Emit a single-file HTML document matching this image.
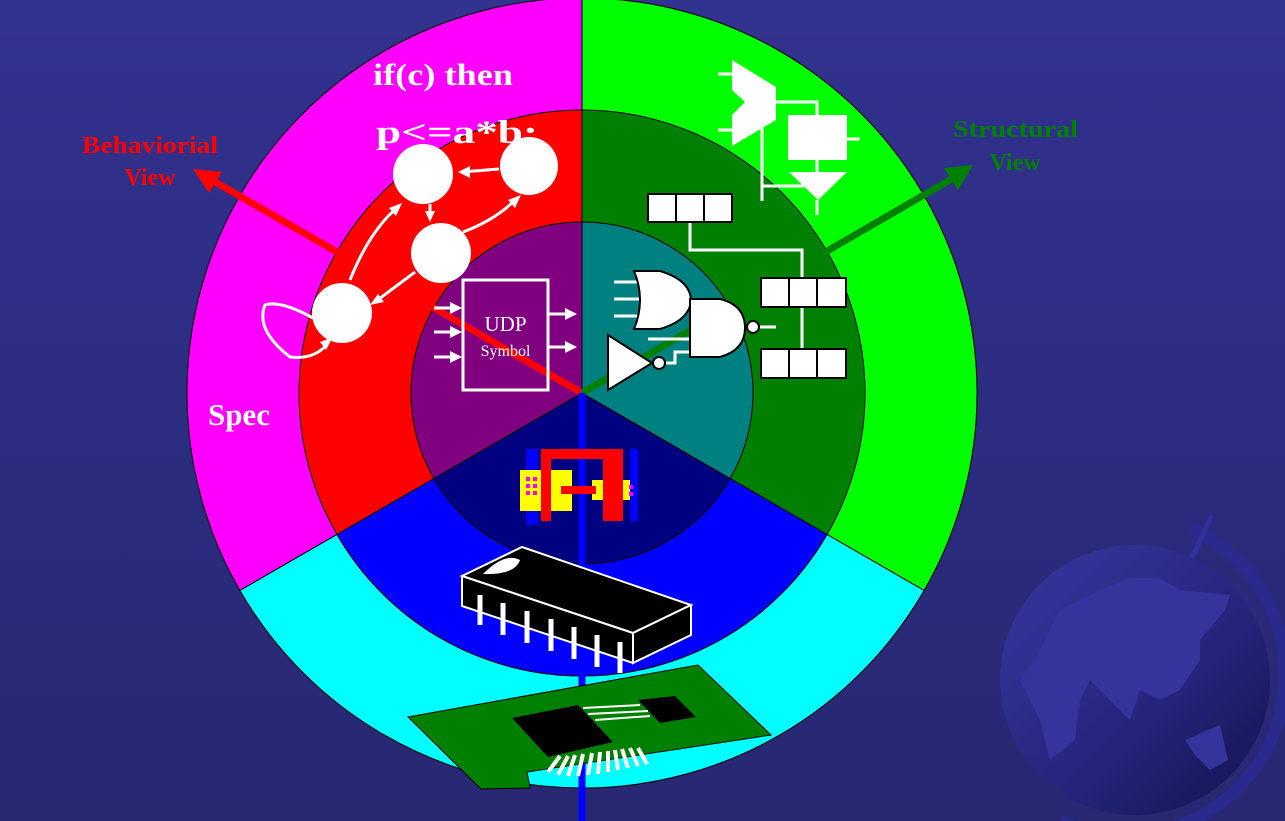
<!DOCTYPE html>
<html><head><meta charset="utf-8"><style>
html,body{margin:0;padding:0;width:1285px;height:821px;overflow:hidden;background:#2d2d86}
svg{display:block}
</style></head><body>
<svg width="1285" height="821" viewBox="0 0 1285 821" xmlns="http://www.w3.org/2000/svg">
<defs>
<linearGradient id="bg" x1="0" y1="0" x2="0" y2="1"><stop offset="0" stop-color="#323290"/><stop offset="1" stop-color="#272772"/></linearGradient>
<linearGradient id="gl" x1="0" y1="0" x2="1" y2="1"><stop offset="0" stop-color="#3838a0"/><stop offset="0.6" stop-color="#24247a"/><stop offset="1" stop-color="#12124e"/></linearGradient>
</defs>
<rect width="1285" height="821" fill="url(#bg)"/>
<!-- globe -->
<path d="M1190 528 A160 160 0 0 1 1060 821" fill="none" stroke="#2a2a8e" stroke-width="12"/>
<line x1="1212" y1="515" x2="1192" y2="558" stroke="#3030a0" stroke-width="5"/>
<circle cx="1135" cy="680" r="135" fill="url(#gl)"/>
<path d="M1020 680 L1040 650 L1060 610 L1100 590 L1130 578 L1160 578 L1180 590 L1230 595 L1225 610 L1200 640 L1200 660 L1180 690 L1160 700 L1140 690 L1130 720 L1110 700 L1090 680 L1080 700 L1075 740 L1050 760 L1040 720 L1030 700 Z" fill="#34349c"/>
<path d="M1185 740 L1220 725 L1228 760 L1210 770 L1195 755 Z" fill="#34349c"/>
<!-- outer sectors -->
<g stroke="#000" stroke-width="1">
<path d="M582 393 L239.9 590.5 A395 395 0 0 1 582 -2 Z" fill="#ff00ff"/>
<path d="M582 393 L582 -2 A395 395 0 0 1 924.1 590.5 Z" fill="#00ff00"/>
<path d="M582 393 L924.1 590.5 A395 395 0 0 1 239.9 590.5 Z" fill="#00ffff"/>
<path d="M582 393 L336.9 534.5 A283 283 0 0 1 582 110 Z" fill="#ff0000"/>
<path d="M582 393 L582 110 A283 283 0 0 1 827.1 534.5 Z" fill="#008000"/>
<path d="M582 393 L827.1 534.5 A283 283 0 0 1 336.9 534.5 Z" fill="#0000ff"/>
<path d="M582 393 L433.9 478.5 A171 171 0 0 1 582 222 Z" fill="#800080"/>
<path d="M582 393 L582 222 A171 171 0 0 1 730.1 478.5 Z" fill="#008080"/>
<path d="M582 393 L730.1 478.5 A171 171 0 0 1 433.9 478.5 Z" fill="#000080"/>
</g>
<!-- axes -->
<line x1="582" y1="393" x2="210" y2="179" stroke="#ff0000" stroke-width="7"/>
<polygon points="193,169 222,172 209,193" fill="#ff0000"/>
<line x1="582" y1="393" x2="955" y2="177" stroke="#008000" stroke-width="7"/>
<polygon points="973,165 944,168 958,190" fill="#008000"/>
<line x1="582" y1="393" x2="582" y2="821" stroke="#0000ff" stroke-width="7"/>
<!-- texts -->
<g font-family="Liberation Serif, serif" font-weight="bold">
<text x="373" y="85" font-size="31" fill="#fff" textLength="140" lengthAdjust="spacingAndGlyphs">if(c) then</text>
<text x="376" y="143" font-size="33" fill="#fff" textLength="162" lengthAdjust="spacingAndGlyphs">p&lt;=a*b;</text>
<text x="208" y="425" font-size="31" fill="#fff">Spec</text>
<text x="82" y="153" font-size="24" fill="#ff0000" textLength="136" lengthAdjust="spacingAndGlyphs">Behaviorial</text>
<text x="150" y="185" font-size="24" fill="#ff0000" text-anchor="middle">View</text>
<text x="953" y="137" font-size="24" fill="#008000" textLength="125" lengthAdjust="spacingAndGlyphs">Structural</text>
<text x="1015" y="170" font-size="24" fill="#008000" text-anchor="middle">View</text>
</g>
<!-- FSM -->
<g fill="#fff">
<circle cx="423" cy="174" r="30"/><circle cx="529" cy="166" r="29"/>
<circle cx="441" cy="253" r="30"/><circle cx="342" cy="313" r="30"/>
</g>
<g stroke="#fff" stroke-width="3" fill="none">
<line x1="499" y1="169" x2="462" y2="172"/>
<line x1="430" y1="204" x2="430" y2="218"/>
<path d="M463 232 Q495 220 515 200"/>
<line x1="415" y1="272" x2="375" y2="302"/>
<path d="M350 280 Q370 230 398 207"/>
<path d="M313 318 Q280 300 265 305 Q255 330 290 357 Q315 360 328 343"/>
</g>
<g fill="#fff">
<polygon points="458,172 470,166 470,178"/>
<polygon points="430,222 425,211 435,211"/>
<polygon points="521,195 508,200 515,208"/>
<polygon points="370,305 378,294 384,302"/>
<polygon points="402,203 396,216 389,208"/>
<polygon points="333,337 320,342 326,350"/>
</g>
<!-- UDP -->
<rect x="463" y="280" width="85" height="110" fill="none" stroke="#fff" stroke-width="3"/>
<text x="505.5" y="331" font-family="Liberation Serif, serif" font-size="21" fill="#fff" text-anchor="middle">UDP</text>
<text x="505.5" y="356" font-family="Liberation Serif, serif" font-size="16" fill="#fff" text-anchor="middle">Symbol</text>
<g stroke="#fff" stroke-width="3">
<line x1="434" y1="308" x2="452" y2="308"/><line x1="434" y1="332" x2="452" y2="332"/><line x1="434" y1="357" x2="452" y2="357"/>
<line x1="549" y1="314" x2="566" y2="314"/><line x1="549" y1="347" x2="566" y2="347"/>
</g>
<g fill="#fff">
<polygon points="462,308 450,302 450,314"/><polygon points="462,332 450,326 450,338"/><polygon points="462,357 450,351 450,363"/>
<polygon points="577,314 565,308 565,320"/><polygon points="577,347 565,341 565,353"/>
</g>
<!-- structural top -->
<g stroke="#fff" stroke-width="3" fill="none">
<line x1="718" y1="74" x2="732" y2="74"/><line x1="718" y1="130" x2="732" y2="130"/>
<polyline points="776,102 817,102 817,115"/>
<line x1="817" y1="160" x2="817" y2="172"/>
<line x1="762" y1="128" x2="762" y2="201"/>
<line x1="762" y1="186" x2="804" y2="186"/>
<line x1="817" y1="200" x2="817" y2="215"/>
<line x1="847" y1="139" x2="860" y2="139"/>
<polyline points="690,222 690,250 802,250 802,349"/>
<polyline points="655,363 675,363 675,352 690,352"/>
<line x1="648" y1="339" x2="690" y2="339"/>
<line x1="760" y1="327" x2="776" y2="327"/>
<line x1="614" y1="282" x2="640" y2="282"/><line x1="614" y1="299" x2="640" y2="299"/><line x1="614" y1="316" x2="640" y2="316"/>
</g>
<polygon points="732,60 776,87 776,120 732,146 732,115 745,102 732,90" fill="#fff"/>
<rect x="788" y="115" width="59" height="45" fill="#fff"/>
<polygon points="789,172 847,172 818,200" fill="#fff"/>
<g fill="#fff" stroke="#000" stroke-width="2">
<rect x="648" y="194" width="28" height="28"/><rect x="676" y="194" width="28" height="28"/><rect x="704" y="194" width="28" height="28"/>
<rect x="761" y="278" width="28" height="29"/><rect x="789" y="278" width="28" height="29"/><rect x="817" y="278" width="29" height="29"/>
<rect x="761" y="349" width="28" height="29"/><rect x="789" y="349" width="28" height="29"/><rect x="817" y="349" width="29" height="29"/>
<path d="M634 271 L660 271 Q690 280 691 300 Q690 320 660 329 L634 329 Q646 300 634 271 Z"/>
<path d="M690 299 L720 299 Q745 305 745 328 Q745 350 720 357 L690 357 Z"/>
<circle cx="753" cy="327" r="6"/>
<polygon points="608,335 652,363 608,390"/>
<circle cx="659" cy="363" r="6"/>
</g>
<!-- transistor layout -->
<rect x="526" y="449" width="12" height="76" fill="#0000ff"/>
<rect x="630" y="449" width="8" height="72" fill="#0000ff"/>
<rect x="520" y="470" width="52" height="41" fill="#ffff00"/>
<rect x="592" y="480" width="38" height="20" fill="#ffff00"/>
<path d="M541 449 L623 449 L623 521 L603 521 L603 459 L551 459 L551 521 L541 521 Z" fill="#ff0000"/>
<rect x="561" y="486" width="35" height="8" fill="#ff0000"/>
<g fill="#ff00ff"><rect x="526" y="477" width="4" height="4"/><rect x="533" y="477" width="4" height="4"/><rect x="526" y="484" width="4" height="4"/><rect x="533" y="484" width="4" height="4"/><rect x="526" y="491" width="4" height="4"/><rect x="533" y="491" width="4" height="4"/><rect x="629" y="485" width="4" height="4"/><rect x="629" y="492" width="4" height="4"/></g>
<!-- IC -->
<g stroke="#fff" stroke-width="2" fill="#000">
<polygon points="462,576 522,547 691,605 633,633"/>
<polygon points="462,576 633,633 633,663 462,606"/>
<polygon points="633,633 691,605 691,635 633,663"/>
</g>
<path d="M483 574 Q505 552 520 560 Q515 575 483 574 Z" fill="#fff"/>
<g stroke="#fff" stroke-width="5">
<line x1="480" y1="595" x2="480" y2="625"/><line x1="503" y1="603" x2="503" y2="635"/><line x1="527" y1="611" x2="527" y2="643"/><line x1="551" y1="619" x2="551" y2="651"/><line x1="574" y1="627" x2="574" y2="659"/><line x1="597" y1="635" x2="597" y2="667"/><line x1="620" y1="642" x2="620" y2="673"/>
</g>
<!-- PCB -->
<polygon points="408,717 698,665 771,735 527,772 530,788 481,789" fill="#008000" stroke="#000" stroke-width="1"/>
<polygon points="512,718 578,705 613,742 548,757" fill="#000"/>
<polygon points="638,700 675,696 696,717 660,723" fill="#000"/>
<g stroke="#fff" stroke-width="2"><line x1="583" y1="708" x2="640" y2="705"/><line x1="588" y1="714" x2="648" y2="711"/><line x1="595" y1="720" x2="650" y2="716"/></g>
<g stroke="#fff" stroke-width="4">
<line x1="548" y1="772" x2="560" y2="756"/><line x1="558" y1="775" x2="568" y2="756"/><line x1="568" y1="776" x2="575" y2="755"/><line x1="578" y1="776" x2="583" y2="754"/><line x1="588" y1="775" x2="592" y2="753"/><line x1="598" y1="774" x2="600" y2="752"/><line x1="608" y1="772" x2="608" y2="751"/><line x1="618" y1="770" x2="615" y2="750"/><line x1="628" y1="768" x2="622" y2="749"/><line x1="638" y1="766" x2="630" y2="748"/><line x1="647" y1="764" x2="638" y2="748"/>
</g>
</svg>
</body></html>
